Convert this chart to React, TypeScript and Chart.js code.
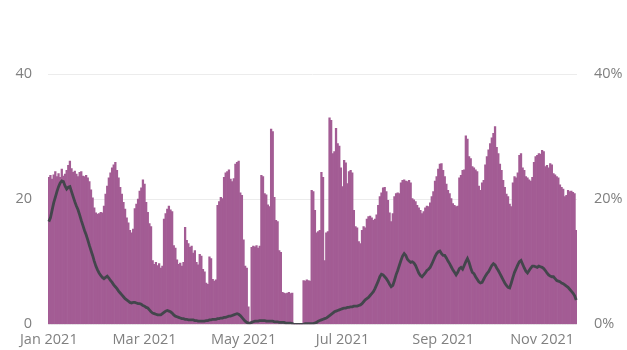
import React, { useEffect, useRef } from "react";
import { Chart, registerables } from "chart.js";

Chart.register(...registerables);

const START_DATE = [2021, 0, 1];
const TICK_DATES = ["2021-01-01", "2021-03-01", "2021-05-01", "2021-07-01", "2021-09-01", "2021-11-01"];
const TICK_LABELS = ["Jan 2021", "Mar 2021", "May 2021", "Jul 2021", "Sep 2021", "Nov 2021"];

// Daily counts (left axis)
const barsJan = [23.5, 23.8, 23.2, 23.9, 24.4, 23.6, 24.1, 23.5, 24.8, 23.7, 24.0, 24.6, 25.4, 26.1, 24.9, 24.3, 24.5, 24.0, 23.6, 24.3, 24.4, 23.7, 23.6, 23.8, 23.4, 22.8, 21.5, 20.2, 18.6, 17.8, 17.6];
const barsFeb = [17.7, 17.9, 17.8, 18.9, 20.8, 22.1, 23.4, 24.2, 25.0, 25.5, 25.9, 24.6, 23.4, 21.9, 20.8, 19.5, 18.4, 17.0, 16.2, 15.0, 14.6, 15.2, 18.5, 19.2, 20.0, 21.3, 21.8, 23.1];
const barsMar = [22.4, 19.5, 17.9, 16.1, 15.6, 10.2, 9.6, 9.9, 9.4, 9.7, 9.0, 9.3, 16.8, 17.7, 18.4, 18.9, 18.3, 18.0, 12.6, 12.2, 10.3, 9.6, 9.8, 9.3, 9.9, 15.5, 13.4, 12.9, 12.3, 12.5, 11.4];
const barsApr = [11.8, 9.9, 9.5, 11.2, 10.9, 8.8, 8.4, 6.6, 6.4, 10.8, 10.5, 7.2, 6.9, 7.1, 19.0, 19.6, 20.3, 20.1, 23.5, 24.2, 24.4, 24.7, 23.2, 22.8, 23.3, 25.6, 25.9, 26.1, 21.0, 20.6];
const barsMay = [13.5, 9.3, 9.0, 2.8, 0.2, 12.3, 12.5, 12.4, 12.6, 12.2, 12.5, 23.8, 23.6, 20.9, 20.7, 19.1, 18.8, 31.2, 30.8, 20.3, 16.6, 16.4, 11.8, 11.5, 5.1, 5.0, 4.9, 5.0, 5.1, 4.9, 5.0];
const barsJun = [0, 0, 0, 0, 0, 0, 7.0, 6.9, 7.1, 7.0, 6.9, 21.4, 21.2, 18.2, 14.6, 14.8, 15.0, 24.3, 23.5, 10.2, 14.6, 14.8, 33.0, 32.6, 27.3, 27.6, 31.3, 28.9, 28.5, 25.0];
const barsJul = [22.0, 26.2, 25.8, 22.5, 24.4, 24.6, 24.2, 18.2, 15.6, 15.4, 13.2, 12.9, 15.0, 15.6, 15.4, 16.8, 17.2, 17.3, 17.0, 16.6, 16.8, 17.5, 19.0, 20.4, 21.0, 21.8, 21.9, 21.2, 19.8, 17.8, 16.4];
const barsAug = [17.7, 20.4, 20.9, 21.0, 20.9, 22.6, 23.0, 23.1, 22.9, 22.8, 23.0, 22.6, 20.1, 19.9, 19.6, 19.0, 18.6, 18.2, 17.7, 18.0, 18.6, 18.9, 18.8, 19.4, 20.4, 21.2, 22.9, 23.6, 24.8, 25.6, 25.7];
const barsSep = [24.6, 23.6, 22.4, 21.4, 20.9, 20.1, 19.3, 19.0, 18.8, 18.9, 23.4, 23.8, 24.6, 24.7, 30.1, 29.6, 26.8, 26.5, 25.2, 25.0, 24.7, 24.4, 22.1, 21.4, 22.6, 23.0, 25.5, 26.8, 27.9, 28.9];
const barsOct = [29.8, 30.5, 31.6, 28.3, 27.3, 25.6, 24.6, 23.0, 21.9, 20.8, 20.4, 19.2, 18.8, 22.6, 23.6, 23.4, 24.2, 27.0, 27.3, 25.0, 24.6, 23.6, 23.4, 23.1, 22.9, 23.5, 25.9, 26.8, 27.0, 27.3, 27.2];
const barsNov = [27.8, 27.6, 25.2, 25.4, 25.0, 25.7, 25.5, 24.1, 23.9, 23.6, 23.4, 22.3, 21.9, 21.6, 20.4, 20.6, 21.4, 21.2, 21.3, 21.1, 20.9, 15.0];

// Daily rate in percent (right axis)
const lineJan = [16.4, 17.0, 18.2, 19.4, 20.3, 21.2, 22.0, 22.6, 22.9, 22.8, 22.1, 21.6, 21.9, 22.0, 21.2, 20.4, 19.6, 18.9, 18.3, 17.5, 16.6, 15.8, 15.0, 14.3, 13.5, 12.6, 11.8, 11.0, 10.1, 9.3, 8.7];
const lineFeb = [8.2, 7.8, 7.5, 7.3, 7.5, 7.7, 7.4, 7.0, 6.7, 6.3, 6.0, 5.7, 5.3, 5.0, 4.7, 4.4, 4.1, 3.9, 3.7, 3.5, 3.4, 3.5, 3.5, 3.4, 3.3, 3.3, 3.2, 3.0];
const lineMar = [2.9, 2.7, 2.6, 2.3, 2.0, 1.8, 1.7, 1.6, 1.5, 1.5, 1.5, 1.7, 1.9, 2.1, 2.2, 2.1, 2.0, 1.8, 1.5, 1.3, 1.2, 1.1, 1.0, 0.9, 0.9, 0.8, 0.8, 0.7, 0.7, 0.7, 0.7];
const lineApr = [0.6, 0.6, 0.5, 0.5, 0.5, 0.5, 0.5, 0.6, 0.6, 0.7, 0.7, 0.8, 0.8, 0.8, 0.9, 0.9, 1.0, 1.0, 1.1, 1.1, 1.2, 1.3, 1.3, 1.4, 1.5, 1.6, 1.7, 1.6, 1.4, 1.1];
const lineMay = [0.8, 0.5, 0.3, 0.2, 0.2, 0.3, 0.4, 0.5, 0.5, 0.5, 0.6, 0.6, 0.6, 0.6, 0.5, 0.5, 0.5, 0.5, 0.5, 0.4, 0.4, 0.4, 0.3, 0.3, 0.3, 0.3, 0.2, 0.2, 0.2, 0.2, 0.1];
const lineJun = [0, 0, 0, 0, 0, 0, 0, 0.1, 0.1, 0.1, 0.1, 0.1, 0.1, 0.2, 0.3, 0.5, 0.6, 0.7, 0.8, 0.9, 1.0, 1.2, 1.4, 1.6, 1.8, 2.0, 2.1, 2.2, 2.3, 2.4];
const lineJul = [2.5, 2.6, 2.6, 2.7, 2.7, 2.8, 2.8, 2.9, 2.9, 2.9, 3.0, 3.1, 3.3, 3.6, 3.9, 4.1, 4.3, 4.6, 4.9, 5.2, 5.7, 6.3, 6.9, 7.6, 8.0, 7.9, 7.6, 7.3, 6.9, 6.4, 6.0];
const lineAug = [6.2, 7.0, 7.9, 8.6, 9.4, 10.2, 10.9, 11.3, 11.0, 10.4, 10.1, 9.9, 10.0, 9.8, 9.4, 8.8, 8.2, 7.8, 7.6, 7.9, 8.2, 8.6, 8.8, 9.1, 9.6, 10.2, 10.8, 11.3, 11.6, 11.7, 11.3];
const lineSep = [11.0, 11.0, 10.6, 10.1, 9.7, 9.2, 8.7, 8.3, 7.9, 8.3, 8.9, 9.1, 8.8, 9.4, 10.0, 10.5, 9.9, 9.0, 8.3, 8.1, 7.6, 7.2, 6.8, 6.6, 6.7, 7.2, 7.7, 8.1, 8.4, 8.9];
const lineOct = [9.4, 9.7, 9.5, 9.0, 8.6, 8.1, 7.6, 7.1, 6.6, 6.2, 5.9, 5.8, 6.6, 7.5, 8.3, 8.9, 9.5, 10.0, 10.2, 9.6, 9.0, 8.5, 8.2, 8.6, 9.0, 9.3, 9.3, 9.2, 9.1, 9.3, 9.2];
const lineNov = [9.1, 8.9, 8.6, 8.2, 7.9, 7.7, 7.6, 7.6, 7.3, 7.0, 6.9, 6.8, 6.6, 6.5, 6.3, 6.1, 5.9, 5.6, 5.3, 5.0, 4.6, 3.9];

const BAR_VALUES = [
  ...barsJan, ...barsFeb, ...barsMar, ...barsApr, ...barsMay, ...barsJun,
  ...barsJul, ...barsAug, ...barsSep, ...barsOct, ...barsNov,
];
const LINE_VALUES = [
  ...lineJan, ...lineFeb, ...lineMar, ...lineApr, ...lineMay, ...lineJun,
  ...lineJul, ...lineAug, ...lineSep, ...lineOct, ...lineNov,
];

const DAY_LABELS = BAR_VALUES.map((_, i) =>
  new Date(Date.UTC(START_DATE[0], START_DATE[1], START_DATE[2] + i)).toISOString().slice(0, 10)
);

const FONT = { family: "'Open Sans', 'Noto Sans', sans-serif", size: 14.5 };
const TEXT_COLOR = "#808080";

export default function App() {
  const ref = useRef<HTMLCanvasElement | null>(null);

  useEffect(() => {
    if (!ref.current) return;
    const chart = new Chart(ref.current, {
      type: "bar",
      data: {
        labels: DAY_LABELS,
        datasets: [
          {
            type: "line",
            data: LINE_VALUES,
            yAxisID: "y1",
            borderColor: "#43464c",
            borderWidth: 2.8,
            pointRadius: 0,
            tension: 0,
            order: 0,
          } as any,
          {
            type: "bar",
            data: BAR_VALUES,
            yAxisID: "y",
            backgroundColor: "#a35c94",
            barPercentage: 1,
            categoryPercentage: 1,
            order: 1,
          },
        ],
      },
      options: {
        animation: false,
        responsive: false,
        maintainAspectRatio: false,
        layout: { padding: { top: 74, left: 0, right: 0, bottom: 0 } },
        plugins: { legend: { display: false }, tooltip: { enabled: false }, title: { display: false } },
        scales: {
          x: {
            grid: { display: false, drawTicks: false },
            border: { display: false },
            ticks: {
              autoSkip: false,
              maxRotation: 0,
              minRotation: 0,
              padding: 7,
              color: TEXT_COLOR,
              font: FONT,
              callback: (_v: any, index: number) => {
                const k = TICK_DATES.indexOf(DAY_LABELS[index]);
                return k >= 0 ? TICK_LABELS[k] : null;
              },
            },
            afterFit: (scale: any) => {
              scale.height = 25;
            },
          },
          y: {
            position: "left",
            min: 0,
            max: 40,
            grid: { color: "#ececec", lineWidth: 1, drawTicks: false },
            border: { display: false },
            ticks: { stepSize: 20, padding: 16, color: TEXT_COLOR, font: FONT },
            afterFit: (scale: any) => {
              scale.width = 48;
            },
          },
          y1: {
            position: "right",
            min: 0,
            max: 40,
            grid: { drawOnChartArea: false, drawTicks: false },
            border: { display: false },
            ticks: {
              stepSize: 20,
              padding: 17,
              color: TEXT_COLOR,
              font: FONT,
              callback: (v: any) => `${v}%`,
            },
            afterFit: (scale: any) => {
              scale.width = 50;
            },
          },
        },
      },
    });
    return () => chart.destroy();
  }, []);

  return (
    <div style={{ position: "absolute", left: 0, top: 0, width: 627, height: 350, background: "#fff" }}>
      <canvas ref={ref} width={627} height={350} style={{ display: "block" }} />
    </div>
  );
}
